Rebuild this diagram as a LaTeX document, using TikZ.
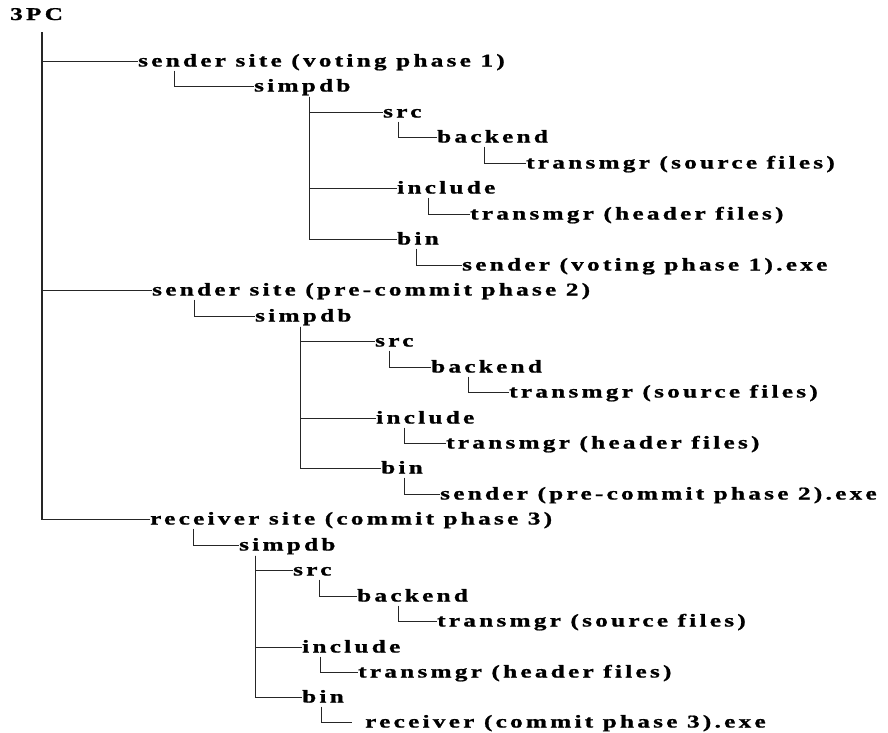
\documentclass[tikz,border=0pt]{standalone}
\usepackage{graphicx}
\usepackage{fontspec}
\newfontfamily\treefont{Liberation Serif}[LetterSpace=13,FakeBold=1]
% labels are set a little wider than the font's own shapes
\newcommand\widetext[1]{\scalebox{1.4}[1]{#1}}
\begin{document}
\begin{tikzpicture}[x=1pt,y=-1pt,
  item/.style={anchor=base west, inner sep=0pt, font=\treefont\bfseries\fontsize{18}{20}\selectfont},
  wire/.style={draw=black!85, line width=1pt},
  trunkwire/.style={wire, line width=1.5pt}]
\useasboundingbox (0,0) rectangle (888,732);

% root
\node[item] (root) at (10,20) {\widetext{3PC}};

% ---- sender site, voting phase 1 ----
\node[item] (s1)   at (138,66.5)  {\widetext{sender site (voting phase 1)}};
\node[item] (db1)  at (254,91.5)  {\widetext{simpdb}};
\node[item] (src1) at (383,117.5) {\widetext{src}};
\node[item] (be1)  at (437,142.5) {\widetext{backend}};
\node[item] (ts1)  at (526,168.5) {\widetext{transmgr (source files)}};
\node[item] (in1)  at (397,193.5) {\widetext{include}};
\node[item] (th1)  at (470,219.5) {\widetext{transmgr (header files)}};
\node[item] (bin1) at (397,244.5) {\widetext{bin}};
\node[item] (ex1)  at (462,270.5) {\widetext{sender (voting phase 1).exe}};

% ---- sender site, pre-commit phase 2 ----
\node[item] (s2)   at (152,295.5) {\widetext{sender site (pre-commit phase 2)}};
\node[item] (db2)  at (255,321.5) {\widetext{simpdb}};
\node[item] (src2) at (375,346.5) {\widetext{src}};
\node[item] (be2)  at (431,372.5) {\widetext{backend}};
\node[item] (ts2)  at (509,397.5) {\widetext{transmgr (source files)}};
\node[item] (in2)  at (376,423.5) {\widetext{include}};
\node[item] (th2)  at (446,448.5) {\widetext{transmgr (header files)}};
\node[item] (bin2) at (381,473.5) {\widetext{bin}};
\node[item] (ex2)  at (440,499.5) {\widetext{sender (pre-commit phase 2).exe}};

% ---- receiver site, commit phase 3 ----
\node[item] (s3)   at (150,524.5) {\widetext{receiver site (commit phase 3)}};
\node[item] (db3)  at (239,550.5) {\widetext{simpdb}};
\node[item] (src3) at (293,575.5) {\widetext{src}};
\node[item] (be3)  at (357,601.5) {\widetext{backend}};
\node[item] (ts3)  at (437,626.5) {\widetext{transmgr (source files)}};
\node[item] (in3)  at (302,652.5) {\widetext{include}};
\node[item] (th3)  at (358,677.5) {\widetext{transmgr (header files)}};
\node[item] (bin3) at (302,702.5) {\widetext{bin}};
\node[item] (ex3)  at (365,727.5) {\widetext{receiver (commit phase 3).exe}};

% trunk
\coordinate (trunk) at ([xshift=32pt,yshift=-12pt]root.base west);
\foreach \s in {s1,s2,s3}
  \draw[trunkwire] (trunk) |- ([yshift=5pt]\s.base west);

% block 1
\draw[wire] ([xshift=36.5pt,yshift=-4pt]s1.base west) |- ([yshift=5pt]db1.base west);
\coordinate (v1) at ([xshift=55.5pt,yshift=-5pt]db1.base west);
\foreach \c in {src1,in1,bin1}
  \draw[wire] (v1) |- ([yshift=5pt]\c.base west);
\draw[wire] ([xshift=15.5pt,yshift=-4pt]src1.base west) |- ([yshift=5pt]be1.base west);
\draw[wire] ([xshift=47.5pt,yshift=-4pt]be1.base west) |- ([yshift=5pt]ts1.base west);
\draw[wire] ([xshift=31.5pt,yshift=-4pt]in1.base west) |- ([yshift=5pt]th1.base west);
\draw[wire] ([xshift=19.5pt,yshift=-4pt]bin1.base west) |- ([yshift=5pt]ex1.base west);

% block 2
\draw[wire] ([xshift=42.5pt,yshift=-4pt]s2.base west) |- ([yshift=5pt]db2.base west);
\coordinate (v2) at ([xshift=45.5pt,yshift=-5pt]db2.base west);
\foreach \c in {src2,in2,bin2}
  \draw[wire] (v2) |- ([yshift=5pt]\c.base west);
\draw[wire] ([xshift=14.5pt,yshift=-4pt]src2.base west) |- ([yshift=5pt]be2.base west);
\draw[wire] ([xshift=37.5pt,yshift=-4pt]be2.base west) |- ([yshift=5pt]ts2.base west);
\draw[wire] ([xshift=28.5pt,yshift=-4pt]in2.base west) |- ([yshift=5pt]th2.base west);
\draw[wire] ([xshift=23.5pt,yshift=-4pt]bin2.base west) |- ([yshift=5pt]ex2.base west);

% block 3
\draw[wire] ([xshift=43.5pt,yshift=-4pt]s3.base west) |- ([yshift=5pt]db3.base west);
\coordinate (v3) at ([xshift=16.5pt,yshift=-5pt]db3.base west);
\foreach \c in {src3,in3,bin3}
  \draw[wire] (v3) |- ([yshift=5pt]\c.base west);
\draw[wire] ([xshift=26.5pt,yshift=-4pt]src3.base west) |- ([yshift=5pt]be3.base west);
\draw[wire] ([xshift=41.5pt,yshift=-4pt]be3.base west) |- ([yshift=5pt]ts3.base west);
\draw[wire] ([xshift=18.5pt,yshift=-4pt]in3.base west) |- ([yshift=5pt]th3.base west);
\coordinate (gap3) at ([xshift=-13pt,yshift=5pt]ex3.base west);
\draw[wire] ([xshift=19.5pt,yshift=-4pt]bin3.base west) |- (gap3);
\end{tikzpicture}
\end{document}
